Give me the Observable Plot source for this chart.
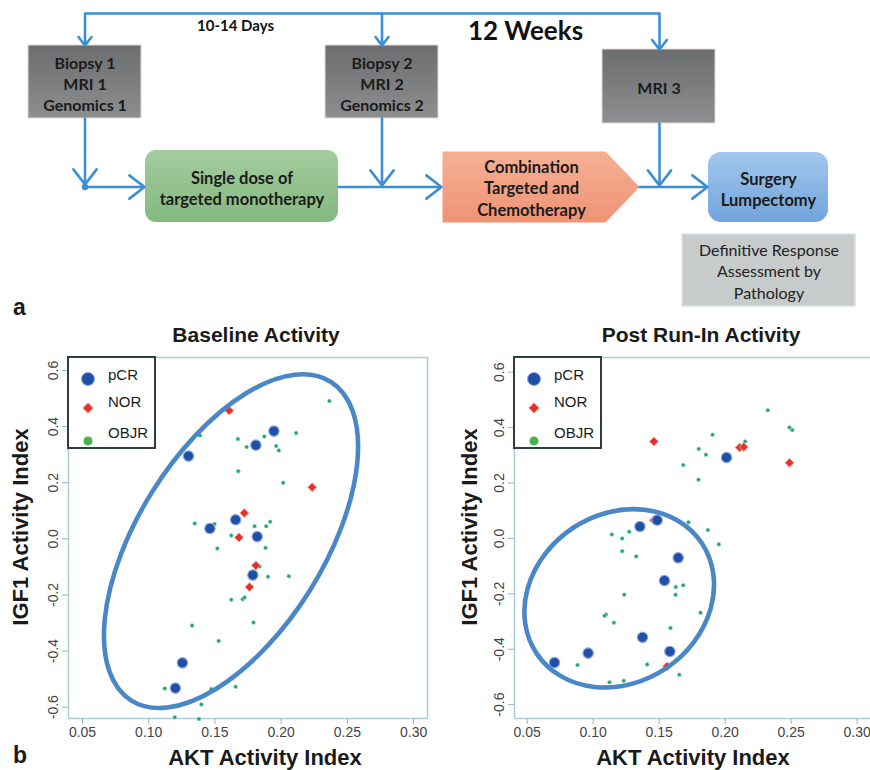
<!DOCTYPE html>
<html>
<head>
<meta charset="utf-8">
<script src="https://cdn.jsdelivr.net/npm/d3@7"></script>
<script src="https://cdn.jsdelivr.net/npm/@observablehq/plot@0.6"></script>
<style>
  html, body { margin: 0; padding: 0; background: #fff; }
  #root { position: relative; width: 870px; height: 770px; overflow: hidden; font-family: "Liberation Sans", Arial, sans-serif; color: #1a1a1a; }
  .abs { position: absolute; white-space: nowrap; }
  .panel { font-weight: bold; font-size: 23px; }
  .title { font-weight: bold; font-size: 21px; transform: translate(-50%, -50%); }
  .xlab { font-weight: bold; font-size: 22px; transform: translate(-50%, -50%); }
  .ylab { font-weight: bold; font-size: 22px; transform: translate(-50%, -50%) rotate(-90deg); }
</style>
</head>
<body>
<div id="root"></div>
<script>
// ---------------- Panel a: study design (text) ----------------
const assessLabels = ["Biopsy 1\nMRI 1\nGenomics 1", "Biopsy 2\nMRI 2\nGenomics 2", "MRI 3"];
const stepLabels = ["Single dose of\ntargeted monotherapy", "Combination\nTargeted and\nChemotherapy", "Surgery\nLumpectomy"];
const noteLabel = "Definitive Response\nAssessment by\nPathology";
const timeLabels = ["10-14 Days", "12 Weeks"];

// ---------------- Panel b: scatter data (AKT, IGF1) ----------------
const groups = ["pCR", "NOR", "OBJR"];
const xTicks = [0.05, 0.10, 0.15, 0.20, 0.25, 0.30];
const yTicks = [-0.6, -0.4, -0.2, 0.0, 0.2, 0.4, 0.6];

const baselinePCR = [[0.1945,0.384],[0.1809,0.334],[0.130,0.295],[0.1656,0.068],[0.1462,0.037],[0.1819,0.008],[0.1786,-0.129],[0.1254,-0.442],[0.1201,-0.532]];
const baselineNOR = [[0.1608,0.457],[0.2234,0.184],[0.1721,0.092],[0.1681,0.005],[0.1809,-0.095],[0.1761,-0.172]];
const baselineOBJR = [[0.2364,0.491],[0.1387,0.368],[0.1673,0.356],[0.1872,0.365],[0.1739,0.327],[0.2113,0.377],[0.1962,0.331],[0.1982,0.315],[0.1676,0.241],[0.2015,0.200],[0.1347,0.055],[0.1497,0.053],[0.1799,0.045],[0.1887,0.045],[0.1917,0.061],[0.1623,0.012],[0.1518,-0.034],[0.1882,-0.032],[0.1837,-0.099],[0.1900,-0.135],[0.2058,-0.133],[0.1623,-0.217],[0.1709,-0.215],[0.1724,-0.209],[0.1791,-0.298],[0.1327,-0.309],[0.1528,-0.364],[0.1656,-0.527],[0.1121,-0.533],[0.1472,-0.535],[0.1397,-0.590],[0.1196,-0.636],[0.1379,-0.642]];

const postPCR = [[0.201,0.292],[0.1354,0.043],[0.1485,0.066],[0.1644,-0.070],[0.154,-0.152],[0.1374,-0.357],[0.1581,-0.408],[0.0962,-0.414],[0.0707,-0.448]];
const postNOR = [[0.146,0.350],[0.2109,0.328],[0.2141,0.330],[0.2487,0.273],[0.146,0.066],[0.156,-0.462]];
const postOBJR = [[0.2323,0.463],[0.2487,0.400],[0.2508,0.391],[0.1904,0.374],[0.2152,0.350],[0.180,0.323],[0.1854,0.302],[0.1682,0.265],[0.1798,0.212],[0.1722,0.058],[0.1869,0.030],[0.1952,-0.021],[0.1141,0.014],[0.122,0.000],[0.1273,0.024],[0.122,-0.046],[0.1326,-0.065],[0.1626,-0.175],[0.1682,-0.169],[0.1624,-0.203],[0.1235,-0.203],[0.1813,-0.268],[0.1098,-0.275],[0.1086,-0.279],[0.1157,-0.304],[0.1586,-0.323],[0.0881,-0.457],[0.1409,-0.455],[0.1652,-0.492],[0.1124,-0.519],[0.1232,-0.514]];

// ---------------- layout (not data) ----------------
const root = document.getElementById("root");
const BLUE_LINE = "#3b8fd6";
const FLOW_FONT = "Lato, 'Open Sans', sans-serif";

const assessBoxes = [
  {x1: 28, x2: 141, y1: 45, y2: 118},
  {x1: 325, x2: 438, y1: 45, y2: 118},
  {x1: 602, x2: 715, y1: 49, y2: 123}
].map((b, i) => ({...b, label: assessLabels[i]}));
const greenBox = {x1: 145, x2: 338, y1: 150, y2: 222, label: stepLabels[0]};
const blueBox = {x1: 708, x2: 828, y1: 152, y2: 222, label: stepLabels[2]};
const noteBox = {x1: 682, x2: 855, y1: 234, y2: 306, label: noteLabel};
const chevron = [[442,151],[605,151],[639,186.5],[605,222],[442,222],[442,151]];
const plainLinks = [{x1: 84.5, y1: 13, x2: 659, y2: 13}];
const arrows = [
  {x1: 84.5, y1: 13, x2: 84.5, y2: 45},
  {x1: 381.5, y1: 13, x2: 381.5, y2: 45},
  {x1: 659, y1: 13, x2: 659, y2: 49},
  {x1: 84.5, y1: 118, x2: 84.5, y2: 184},
  {x1: 84.5, y1: 186.5, x2: 144, y2: 186.5},
  {x1: 381.5, y1: 118, x2: 381.5, y2: 185},
  {x1: 338, y1: 186.5, x2: 441, y2: 186.5},
  {x1: 659, y1: 123, x2: 659, y2: 185},
  {x1: 639, y1: 186.5, x2: 707, y2: 186.5}
];

const defs = () => {
  const d = d3.create("svg:defs");
  const grads = [
    ["gGrey", "#6b6d6f", "#8c8e90"],
    ["gGreen", "#a3cc9e", "#84b97f"],
    ["gOrange", "#f6b094", "#ee9374"],
    ["gBlue", "#a2c6ec", "#72a5dc"]
  ];
  for (const [id, a, b] of grads) {
    const g = d.append("linearGradient").attr("id", id).attr("x1", 0).attr("y1", 0).attr("x2", 0).attr("y2", 1);
    g.append("stop").attr("offset", "0%").attr("stop-color", a);
    g.append("stop").attr("offset", "100%").attr("stop-color", b);
  }
  return d.node();
};

const flow = Plot.plot({
  width: 870, height: 320,
  margin: 0,
  x: {domain: [0, 870], range: [0, 870], axis: null},
  y: {domain: [0, 320], range: [0, 320], axis: null},
  style: {background: "#fff", fontFamily: FLOW_FONT},
  marks: [
    defs,
    Plot.link(plainLinks, {x1: "x1", y1: "y1", x2: "x2", y2: "y2", stroke: BLUE_LINE, strokeWidth: 2.6}),
    Plot.rect(assessBoxes, {x1: "x1", x2: "x2", y1: "y1", y2: "y2", fill: "url(#gGrey)", stroke: "#e8d8d8", strokeWidth: 1}),
    Plot.rect([greenBox], {x1: "x1", x2: "x2", y1: "y1", y2: "y2", fill: "url(#gGreen)", rx: 11}),
    Plot.line(chevron, {x: d => d[0], y: d => d[1], fill: "url(#gOrange)", stroke: "none"}),
    Plot.rect([blueBox], {x1: "x1", x2: "x2", y1: "y1", y2: "y2", fill: "url(#gBlue)", rx: 13}),
    Plot.rect([noteBox], {x1: "x1", x2: "x2", y1: "y1", y2: "y2", fill: "#c7cbcb", stroke: "#dde1e1", strokeWidth: 1.5}),
    Plot.arrow(arrows, {x1: "x1", y1: "y1", x2: "x2", y2: "y2", stroke: BLUE_LINE, strokeWidth: 2.6, headLength: 11, headAngle: 75}),
    Plot.dot([[84.5, 186.5]], {x: d => d[0], y: d => d[1], r: 3.2, fill: BLUE_LINE}),
    Plot.text(assessBoxes, {x: d => (d.x1 + d.x2) / 2, y: d => (d.y1 + d.y2) / 2 + 1, text: "label", fontSize: 16, fontWeight: "bold", lineHeight: 1.33, fill: "#1b1b1b"}),
    Plot.text([greenBox, blueBox], {x: d => (d.x1 + d.x2) / 2, y: d => (d.y1 + d.y2) / 2 + 1, text: "label", fontSize: 16.5, fontWeight: "bold", lineHeight: 1.3, fill: "#1b1b1b"}),
    Plot.text([stepLabels[1]], {x: () => 531, y: () => 187, text: d => d, fontSize: 16.5, fontWeight: "bold", lineHeight: 1.3, fill: "#1b1b1b"}),
    Plot.text([noteBox], {x: d => (d.x1 + d.x2) / 2, y: d => (d.y1 + d.y2) / 2, text: "label", fontSize: 16, lineHeight: 1.35, fill: "#222"}),
    Plot.text([timeLabels[0]], {x: () => 235, y: () => 26, text: d => d, fontSize: 15, fontWeight: "bold", fill: "#111"}),
    Plot.text([timeLabels[1]], {x: () => 525, y: () => 31, text: d => d, fontSize: 26, fontWeight: "bold", fill: "#111"})
  ]
});
flow.style.position = "absolute";
flow.style.left = "0px";
flow.style.top = "0px";
root.appendChild(flow);

function addText(cls, text, x, y) {
  const d = document.createElement("div");
  d.className = "abs " + cls;
  d.textContent = text;
  d.style.left = x + "px";
  d.style.top = y + "px";
  root.appendChild(d);
  return d;
}
addText("panel", "a", 13, 294);
addText("panel", "b", 13, 742);

// ---------------- scatter plots ----------------
const COLORS = {pCR: "#1f50a6", NOR: "#e5302b", OBJR: "#1fa36c"};

function ellipseMark(ell) {
  return (index, scales) => {
    const cx = scales.x(ell.cx), cy = scales.y(ell.cy);
    const g = d3.create("svg:g");
    g.append("ellipse").attr("cx", cx).attr("cy", cy).attr("rx", ell.a).attr("ry", ell.b)
      .attr("transform", `rotate(${-ell.angle},${cx},${cy})`)
      .attr("fill", "none").attr("stroke", "#4a87c6").attr("stroke-width", 4.6);
    return g.node();
  };
}

function legendMark() {
  return (index, scales, values, dims) => {
    const x0 = dims.marginLeft, y0 = dims.marginTop;
    const g = d3.create("svg:g").attr("text-anchor", "start");
    g.append("rect").attr("x", x0).attr("y", y0).attr("width", 87).attr("height", 91)
      .attr("fill", "#fff").attr("stroke", "#2e3d43").attr("stroke-width", 2);
    g.append("circle").attr("cx", x0 + 20).attr("cy", y0 + 22).attr("r", 6.5).attr("fill", COLORS.pCR).attr("stroke", "#8da5e0").attr("stroke-width", 1);
    g.append("path").attr("d", d3.symbol(d3.symbolDiamond2, 70)()).attr("transform", `translate(${x0 + 20},${y0 + 51})`).attr("fill", COLORS.NOR).attr("stroke", "#f4a29a").attr("stroke-width", 1);
    g.append("circle").attr("cx", x0 + 20).attr("cy", y0 + 84).attr("r", 4.5).attr("fill", "#4cb050");
    const ty = [18, 45, 76];
    groups.forEach((name, i) => {
      g.append("text").attr("x", x0 + 40).attr("y", y0 + ty[i]).attr("dy", "0.35em")
        .attr("text-anchor", "start").attr("font-size", 15).attr("fill", "#1a1a1a").text(name);
    });
    return g.node();
  };
}

function scatter({pcr, nor, objr, ell, width, marginLeft, marginRight, xDomain, yDomain}) {
  return Plot.plot({
    width, height: 398,
    marginTop: 12, marginBottom: 25, marginLeft, marginRight,
    x: {domain: xDomain},
    y: {domain: yDomain},
    style: {fontFamily: "'Liberation Sans', Arial, sans-serif", fontSize: "14px", background: "transparent", overflow: "visible"},
    marks: [
      Plot.frame({stroke: "#a9ccd6", strokeWidth: 1.5}),
      Plot.axisX({ticks: xTicks, tickSize: 6, tickPadding: 3, tickFormat: d => d.toFixed(2), stroke: "#8db8cb", fill: "#444", label: null}),
      Plot.axisY({ticks: yTicks, tickSize: 6, tickPadding: 5, tickRotate: -90, tickFormat: d => d.toFixed(1), stroke: "#8db8cb", fill: "#444", label: null}),
      Plot.dot(objr, {x: d => d[0], y: d => d[1], r: 2, fill: COLORS.OBJR, stroke: "#b8e6cf", strokeWidth: 0.6}),
      Plot.dot(nor, {x: d => d[0], y: d => d[1], symbol: "diamond2", r: 4, fill: COLORS.NOR, stroke: "#f4a29a", strokeWidth: 1}),
      Plot.dot(pcr, {x: d => d[0], y: d => d[1], r: 5.2, fill: COLORS.pCR, stroke: "#8da5e0", strokeWidth: 1.2}),
      ellipseMark(ell),
      legendMark()
    ]
  });
}

const left = scatter({
  pcr: baselinePCR, nor: baselineNOR, objr: baselineOBJR,
  ell: {cx: 0.1625, cy: -0.010, a: 188, b: 93, angle: 58},
  width: 440, marginLeft: 68, marginRight: 13,
  xDomain: [0.0394, 0.3105], yDomain: [-0.6403, 0.6463]
});
left.style.position = "absolute";
left.style.left = "0px";
left.style.top = "345px";
root.appendChild(left);

const right = scatter({
  pcr: postPCR, nor: postNOR, objr: postOBJR,
  ell: {cx: 0.1201, cy: -0.218, a: 99.3, b: 84.2, angle: 34},
  width: 432, marginLeft: 74, marginRight: 0,
  xDomain: [0.0404, 0.3116], yDomain: [-0.65, 0.653]
});
right.style.position = "absolute";
right.style.left = "440px";
right.style.top = "345px";
root.appendChild(right);

addText("title", "Baseline Activity", 256, 335);
addText("title", "Post Run-In Activity", 701, 335);
addText("xlab", "AKT Activity Index", 265, 758);
addText("xlab", "AKT Activity Index", 693, 758);
addText("ylab", "IGF1 Activity Index", 21, 527);
addText("ylab", "IGF1 Activity Index", 470, 527);
</script>
</body>
</html>
